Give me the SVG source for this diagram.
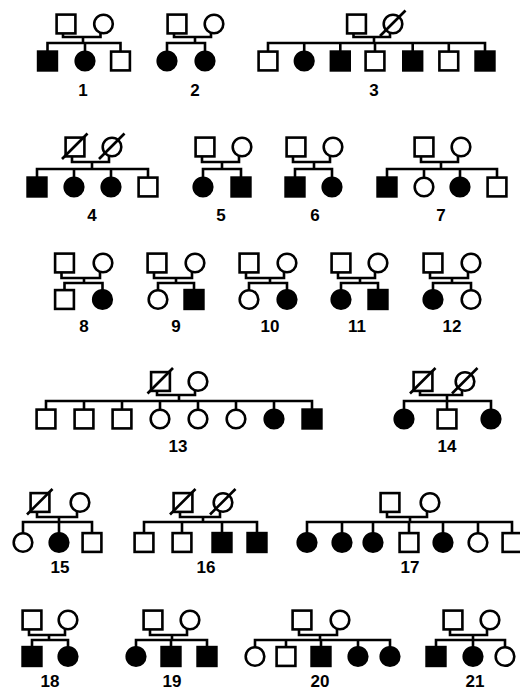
<svg xmlns="http://www.w3.org/2000/svg" xmlns:xlink="http://www.w3.org/1999/xlink" width="520" height="691" viewBox="0 0 520 691">
<style>
.bg{fill:#fff}
.ln{fill:none;stroke:#000;stroke-width:2.6;stroke-linejoin:miter}
.o{fill:#fff;stroke:#000;stroke-width:2.6}
.f{fill:#000;stroke:#000;stroke-width:2.6}
.lab{font-family:"Liberation Sans",Arial,sans-serif;font-weight:bold;font-size:17px;text-anchor:middle;fill:#000}
</style>
<defs>
<rect id="sq" x="-9.4" y="-9.4" width="18.8" height="18.8"/>
<circle id="ci" r="9.3"/>
<g id="sqd"><rect x="-9.4" y="-9.4" width="18.8" height="18.8"/><line x1="-13" y1="12" x2="12.5" y2="-13.5"/></g>
<g id="cid"><circle r="9.3"/><line x1="-13" y1="12" x2="12.5" y2="-13.5"/></g>
</defs>
<rect class="bg" width="520" height="691"/>
<g id="connectors" class="ln">
<path d="M63 33.2V37H100.5V33.2M83 37V43M47.5 51.8V43H120.5V51.8M85 43V51.8"/>
<path d="M174 33.2V37H211V33.2M195 37V43M167 51.8V43H205V51.8"/>
<path d="M353.5 33.2V37H390V33.2M374 37V43M268 51.8V43H485V51.8M304.2 43V51.8M340.3 43V51.8M375 43V51.8M412.7 43V51.8M448.8 43V51.8"/>
<path d="M72 156.2V162H109V156.2M92 162V169M37 177.8V169H148V177.8M74 169V177.8M111 169V177.8"/>
<path d="M202 156.2V162H239V156.2M222 162V169M203 177.8V169H241V177.8"/>
<path d="M293 156.2V162H330V156.2M314 162V169M295 177.8V169H332V177.8"/>
<path d="M421 156.2V162H458V156.2M441 162V169M387 177.8V169H497V177.8M424 169V177.8M460 169V177.8"/>
<path d="M61.5 272.2V278H100V272.2M84 278V283M64.5 290.3V283H102.5V290.3"/>
<path d="M154 272.2V278H192V272.2M176 278V283M158 290.3V283H194V290.3"/>
<path d="M246 272.2V278H284V272.2M270 278V283M249 290.3V283H287V290.3"/>
<path d="M338 272.2V278H375V272.2M360 278V283M341 290.3V283H378V290.3"/>
<path d="M430 272.2V278H468V272.2M452 278V283M433 290.3V283H471V290.3"/>
<path d="M157 390.7V395H195V390.7M179 395V401M46 409.8V401H312V409.8M84 401V409.8M122 401V409.8M160 401V409.8M198 401V409.8M236 401V409.8M274 401V409.8"/>
<path d="M420 390.7V395H462V390.7M447 395V401M404 409.8V401H491V409.8M447 401V409.8"/>
<path d="M37 511.7V517H77V511.7M59 517V522M23 533.3V522H92V533.3M59 522V533.3"/>
<path d="M180 511.7V517H220V511.7M203 517V522M144 533.3V522H257V533.3M182 522V533.3M222 522V533.3"/>
<path d="M387 511.7V517H427V511.7M410 517V522M307 533.3V522H512V533.3M342 522V533.3M373 522V533.3M409 522V533.3M443 522V533.3M478 522V533.3"/>
<path d="M29 629.2V635H65V629.2M49 635V640M32 647.3V640H68V647.3"/>
<path d="M150 629.2V635H187V629.2M172 635V640M136 647.3V640H207V647.3M171 640V647.3"/>
<path d="M299 629.2V635H337V629.2M320 635V640M255 647.3V640H390V647.3M286 640V647.3M321 640V647.3M358 640V647.3"/>
<path d="M450 629.2V635H487V629.2M473 635V640M436 647.3V640H505V647.3M473 640V647.3"/>
</g>
<g id="pedigree-1">
<use id="p1-father" xlink:href="#sq" x="66" y="24" class="o"/>
<use id="p1-mother" xlink:href="#ci" x="103.5" y="24" class="o"/>
<use id="p1-c1" xlink:href="#sq" x="47.5" y="61" class="f"/>
<use id="p1-c2" xlink:href="#ci" x="85" y="61" class="f"/>
<use id="p1-c3" xlink:href="#sq" x="120.5" y="61" class="o"/>
<text class="lab" x="83" y="96">1</text>
</g>
<g id="pedigree-2">
<use id="p2-father" xlink:href="#sq" x="177" y="24" class="o"/>
<use id="p2-mother" xlink:href="#ci" x="214" y="24" class="o"/>
<use id="p2-c1" xlink:href="#ci" x="167" y="61" class="f"/>
<use id="p2-c2" xlink:href="#ci" x="205" y="61" class="f"/>
<text class="lab" x="195" y="96">2</text>
</g>
<g id="pedigree-3">
<use id="p3-father" xlink:href="#sq" x="356.5" y="24" class="o"/>
<use id="p3-mother" xlink:href="#cid" x="393" y="24" class="o"/>
<use id="p3-c1" xlink:href="#sq" x="268" y="61" class="o"/>
<use id="p3-c2" xlink:href="#ci" x="304.2" y="61" class="f"/>
<use id="p3-c3" xlink:href="#sq" x="340.3" y="61" class="f"/>
<use id="p3-c4" xlink:href="#sq" x="375" y="61" class="o"/>
<use id="p3-c5" xlink:href="#sq" x="412.7" y="61" class="f"/>
<use id="p3-c6" xlink:href="#sq" x="448.8" y="61" class="o"/>
<use id="p3-c7" xlink:href="#sq" x="485" y="61" class="f"/>
<text class="lab" x="374" y="96">3</text>
</g>
<g id="pedigree-4">
<use id="p4-father" xlink:href="#sqd" x="75" y="147" class="o"/>
<use id="p4-mother" xlink:href="#cid" x="112" y="147" class="o"/>
<use id="p4-c1" xlink:href="#sq" x="37" y="187" class="f"/>
<use id="p4-c2" xlink:href="#ci" x="74" y="187" class="f"/>
<use id="p4-c3" xlink:href="#ci" x="111" y="187" class="f"/>
<use id="p4-c4" xlink:href="#sq" x="148" y="187" class="o"/>
<text class="lab" x="92" y="221">4</text>
</g>
<g id="pedigree-5">
<use id="p5-father" xlink:href="#sq" x="205" y="147" class="o"/>
<use id="p5-mother" xlink:href="#ci" x="242" y="147" class="o"/>
<use id="p5-c1" xlink:href="#ci" x="203" y="187" class="f"/>
<use id="p5-c2" xlink:href="#sq" x="241" y="187" class="f"/>
<text class="lab" x="221" y="221">5</text>
</g>
<g id="pedigree-6">
<use id="p6-father" xlink:href="#sq" x="296" y="147" class="o"/>
<use id="p6-mother" xlink:href="#ci" x="333" y="147" class="o"/>
<use id="p6-c1" xlink:href="#sq" x="295" y="187" class="f"/>
<use id="p6-c2" xlink:href="#ci" x="332" y="187" class="f"/>
<text class="lab" x="315" y="221">6</text>
</g>
<g id="pedigree-7">
<use id="p7-father" xlink:href="#sq" x="424" y="147" class="o"/>
<use id="p7-mother" xlink:href="#ci" x="461" y="147" class="o"/>
<use id="p7-c1" xlink:href="#sq" x="387" y="187" class="f"/>
<use id="p7-c2" xlink:href="#ci" x="424" y="187" class="o"/>
<use id="p7-c3" xlink:href="#ci" x="460" y="187" class="f"/>
<use id="p7-c4" xlink:href="#sq" x="497" y="187" class="o"/>
<text class="lab" x="441" y="221">7</text>
</g>
<g id="pedigree-8">
<use id="p8-father" xlink:href="#sq" x="64.5" y="263" class="o"/>
<use id="p8-mother" xlink:href="#ci" x="103" y="263" class="o"/>
<use id="p8-c1" xlink:href="#sq" x="64.5" y="299.5" class="o"/>
<use id="p8-c2" xlink:href="#ci" x="102.5" y="299.5" class="f"/>
<text class="lab" x="84" y="332">8</text>
</g>
<g id="pedigree-9">
<use id="p9-father" xlink:href="#sq" x="157" y="263" class="o"/>
<use id="p9-mother" xlink:href="#ci" x="195" y="263" class="o"/>
<use id="p9-c1" xlink:href="#ci" x="158" y="299.5" class="o"/>
<use id="p9-c2" xlink:href="#sq" x="194" y="299.5" class="f"/>
<text class="lab" x="176" y="332">9</text>
</g>
<g id="pedigree-10">
<use id="p10-father" xlink:href="#sq" x="249" y="263" class="o"/>
<use id="p10-mother" xlink:href="#ci" x="287" y="263" class="o"/>
<use id="p10-c1" xlink:href="#ci" x="249" y="299.5" class="o"/>
<use id="p10-c2" xlink:href="#ci" x="287" y="299.5" class="f"/>
<text class="lab" x="270" y="332">10</text>
</g>
<g id="pedigree-11">
<use id="p11-father" xlink:href="#sq" x="341" y="263" class="o"/>
<use id="p11-mother" xlink:href="#ci" x="378" y="263" class="o"/>
<use id="p11-c1" xlink:href="#ci" x="341" y="299.5" class="f"/>
<use id="p11-c2" xlink:href="#sq" x="378" y="299.5" class="f"/>
<text class="lab" x="357" y="332">11</text>
</g>
<g id="pedigree-12">
<use id="p12-father" xlink:href="#sq" x="433" y="263" class="o"/>
<use id="p12-mother" xlink:href="#ci" x="471" y="263" class="o"/>
<use id="p12-c1" xlink:href="#ci" x="433" y="299.5" class="f"/>
<use id="p12-c2" xlink:href="#ci" x="471" y="299.5" class="o"/>
<text class="lab" x="452" y="332">12</text>
</g>
<g id="pedigree-13">
<use id="p13-father" xlink:href="#sqd" x="160.5" y="381.5" class="o"/>
<use id="p13-mother" xlink:href="#ci" x="198" y="381.5" class="o"/>
<use id="p13-c1" xlink:href="#sq" x="46" y="419" class="o"/>
<use id="p13-c2" xlink:href="#sq" x="84" y="419" class="o"/>
<use id="p13-c3" xlink:href="#sq" x="122" y="419" class="o"/>
<use id="p13-c4" xlink:href="#ci" x="160" y="419" class="o"/>
<use id="p13-c5" xlink:href="#ci" x="198" y="419" class="o"/>
<use id="p13-c6" xlink:href="#ci" x="236" y="419" class="o"/>
<use id="p13-c7" xlink:href="#ci" x="274" y="419" class="f"/>
<use id="p13-c8" xlink:href="#sq" x="312" y="419" class="f"/>
<text class="lab" x="178" y="452">13</text>
</g>
<g id="pedigree-14">
<use id="p14-father" xlink:href="#sqd" x="423" y="381.5" class="o"/>
<use id="p14-mother" xlink:href="#cid" x="465" y="381.5" class="o"/>
<use id="p14-c1" xlink:href="#ci" x="404" y="419" class="f"/>
<use id="p14-c2" xlink:href="#sq" x="447" y="419" class="o"/>
<use id="p14-c3" xlink:href="#ci" x="491" y="419" class="f"/>
<text class="lab" x="447" y="452">14</text>
</g>
<g id="pedigree-15">
<use id="p15-father" xlink:href="#sqd" x="40" y="502.5" class="o"/>
<use id="p15-mother" xlink:href="#ci" x="80" y="502.5" class="o"/>
<use id="p15-c1" xlink:href="#ci" x="23" y="542.5" class="o"/>
<use id="p15-c2" xlink:href="#ci" x="59" y="542.5" class="f"/>
<use id="p15-c3" xlink:href="#sq" x="92" y="542.5" class="o"/>
<text class="lab" x="60" y="573">15</text>
</g>
<g id="pedigree-16">
<use id="p16-father" xlink:href="#sqd" x="183" y="502.5" class="o"/>
<use id="p16-mother" xlink:href="#cid" x="223" y="502.5" class="o"/>
<use id="p16-c1" xlink:href="#sq" x="144" y="542.5" class="o"/>
<use id="p16-c2" xlink:href="#sq" x="182" y="542.5" class="o"/>
<use id="p16-c3" xlink:href="#sq" x="222" y="542.5" class="f"/>
<use id="p16-c4" xlink:href="#sq" x="257" y="542.5" class="f"/>
<text class="lab" x="206" y="573">16</text>
</g>
<g id="pedigree-17">
<use id="p17-father" xlink:href="#sq" x="390" y="502.5" class="o"/>
<use id="p17-mother" xlink:href="#ci" x="430" y="502.5" class="o"/>
<use id="p17-c1" xlink:href="#ci" x="307" y="542.5" class="f"/>
<use id="p17-c2" xlink:href="#ci" x="342" y="542.5" class="f"/>
<use id="p17-c3" xlink:href="#ci" x="373" y="542.5" class="f"/>
<use id="p17-c4" xlink:href="#sq" x="409" y="542.5" class="o"/>
<use id="p17-c5" xlink:href="#ci" x="443" y="542.5" class="f"/>
<use id="p17-c6" xlink:href="#ci" x="478" y="542.5" class="o"/>
<use id="p17-c7" xlink:href="#sq" x="512" y="542.5" class="o"/>
<text class="lab" x="410" y="573">17</text>
</g>
<g id="pedigree-18">
<use id="p18-father" xlink:href="#sq" x="32" y="620" class="o"/>
<use id="p18-mother" xlink:href="#ci" x="68" y="620" class="o"/>
<use id="p18-c1" xlink:href="#sq" x="32" y="656.5" class="f"/>
<use id="p18-c2" xlink:href="#ci" x="68" y="656.5" class="f"/>
<text class="lab" x="50" y="687">18</text>
</g>
<g id="pedigree-19">
<use id="p19-father" xlink:href="#sq" x="153" y="620" class="o"/>
<use id="p19-mother" xlink:href="#ci" x="190" y="620" class="o"/>
<use id="p19-c1" xlink:href="#ci" x="136" y="656.5" class="f"/>
<use id="p19-c2" xlink:href="#sq" x="171" y="656.5" class="f"/>
<use id="p19-c3" xlink:href="#sq" x="207" y="656.5" class="f"/>
<text class="lab" x="172" y="687">19</text>
</g>
<g id="pedigree-20">
<use id="p20-father" xlink:href="#sq" x="302" y="620" class="o"/>
<use id="p20-mother" xlink:href="#ci" x="340" y="620" class="o"/>
<use id="p20-c1" xlink:href="#ci" x="255" y="656.5" class="o"/>
<use id="p20-c2" xlink:href="#sq" x="286" y="656.5" class="o"/>
<use id="p20-c3" xlink:href="#sq" x="321" y="656.5" class="f"/>
<use id="p20-c4" xlink:href="#ci" x="358" y="656.5" class="f"/>
<use id="p20-c5" xlink:href="#ci" x="390" y="656.5" class="f"/>
<text class="lab" x="320" y="687">20</text>
</g>
<g id="pedigree-21">
<use id="p21-father" xlink:href="#sq" x="453" y="620" class="o"/>
<use id="p21-mother" xlink:href="#ci" x="490" y="620" class="o"/>
<use id="p21-c1" xlink:href="#sq" x="436" y="656.5" class="f"/>
<use id="p21-c2" xlink:href="#ci" x="473" y="656.5" class="f"/>
<use id="p21-c3" xlink:href="#ci" x="505" y="656.5" class="o"/>
<text class="lab" x="475" y="687">21</text>
</g>
</svg>
